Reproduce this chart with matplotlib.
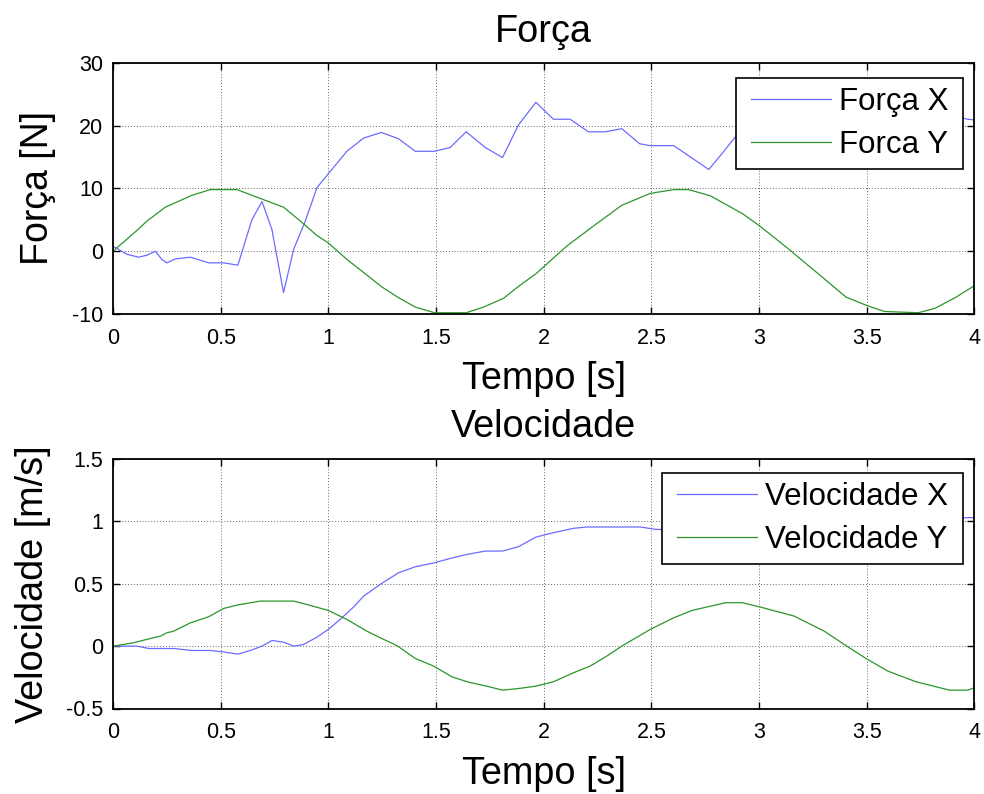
import matplotlib
matplotlib.use("Agg")
import matplotlib.pyplot as plt
from matplotlib.path import Path

plt.rcParams['font.family'] = ['Liberation Sans', 'DejaVu Sans']
plt.rcParams['axes.unicode_minus'] = False

# ---------------- data ----------------
fx_t = [0.0, 0.065, 0.119, 0.158, 0.197, 0.227, 0.25, 0.29, 0.36, 0.444, 0.514, 0.58,
        0.645, 0.692, 0.738, 0.792, 0.839, 0.893, 0.947, 1.009, 1.086, 1.164, 1.246,
        1.326, 1.404, 1.493, 1.566, 1.64, 1.729, 1.809, 1.883, 1.964, 2.045, 2.123,
        2.208, 2.286, 2.363, 2.446, 2.495, 2.604, 2.767, 2.837, 2.9, 3.0, 3.15, 3.3,
        3.45, 3.6, 3.75, 3.9, 3.97, 4.0]
fx_v = [0.8, -0.5, -0.96, -0.64, 0.0, -1.33, -1.86, -1.22, -0.96, -1.86, -1.86, -2.23,
        5.0, 7.9, 3.45, -6.6, 0.3, 4.8, 10.1, 12.7, 15.9, 18.0, 18.9,
        17.9, 15.9, 15.9, 16.5, 19.0, 16.5, 14.9, 20.1, 23.7, 21.0, 21.0,
        19.0, 19.0, 19.5, 17.1, 16.8, 16.8, 13.0, 15.9, 18.6, 20.5, 21.5, 22.0,
        21.0, 22.5, 21.5, 21.5, 21.0, 20.9]

fy_t = [0.0, 0.111, 0.158, 0.243, 0.367, 0.452, 0.576, 0.668, 0.792, 0.87, 0.947, 1.0,
        1.086, 1.179, 1.249, 1.326, 1.404, 1.493, 1.64, 1.721, 1.814, 1.883, 1.964,
        2.107, 2.231, 2.363, 2.495, 2.604, 2.674, 2.775, 2.922, 3.0, 3.132, 3.272,
        3.404, 3.497, 3.583, 3.74, 3.817, 3.911, 4.0]
fy_v = [0.0, 3.3, 4.8, 7.0, 8.9, 9.8, 9.8, 8.6, 7.0, 4.8, 2.5, 1.3,
        -1.3, -3.8, -5.7, -7.4, -8.9, -9.8, -9.8, -8.9, -7.5, -5.6, -3.6,
        0.8, 4.0, 7.3, 9.2, 9.8, 9.8, 8.8, 6.0, 4.1, 0.5, -3.5,
        -7.3, -8.6, -9.6, -9.8, -9.1, -7.4, -5.5]

vx_t = [0.0, 0.111, 0.166, 0.282, 0.367, 0.452, 0.506, 0.58, 0.638, 0.692, 0.738,
        0.792, 0.839, 0.885, 0.947, 1.0, 1.055, 1.117, 1.164, 1.241, 1.326, 1.404,
        1.493, 1.566, 1.643, 1.729, 1.809, 1.883, 1.964, 2.045, 2.138, 2.2, 2.449,
        2.519, 2.7, 3.0, 3.3, 3.6, 3.9, 3.97, 4.0]
vx_v = [0.0, 0.0, -0.019, -0.019, -0.035, -0.035, -0.045, -0.064, -0.035, 0.0, 0.045,
        0.032, 0.0, 0.013, 0.072, 0.134, 0.214, 0.313, 0.401, 0.495, 0.588, 0.636,
        0.668, 0.703, 0.735, 0.762, 0.762, 0.797, 0.874, 0.909, 0.944, 0.955, 0.955,
        0.936, 0.93, 0.95, 0.98, 1.0, 1.02, 1.03, 1.03]

vy_t = [0.0, 0.096, 0.173, 0.22, 0.25, 0.282, 0.36, 0.444, 0.514, 0.576, 0.684, 0.839,
        0.9, 1.0, 1.086, 1.179, 1.241, 1.318, 1.404, 1.489, 1.574, 1.651, 1.736,
        1.809, 1.883, 1.964, 2.045, 2.138, 2.216, 2.293, 2.363, 2.495, 2.604, 2.689,
        2.845, 2.922, 3.0, 3.163, 3.303, 3.396, 3.497, 3.598, 3.73, 3.885, 3.97, 4.0]
vy_v = [0.0, 0.027, 0.061, 0.08, 0.107, 0.12, 0.187, 0.235, 0.302, 0.329, 0.361, 0.361,
        0.334, 0.286, 0.214, 0.12, 0.067, 0.005, -0.099, -0.16, -0.246, -0.289, -0.321,
        -0.353, -0.34, -0.321, -0.286, -0.214, -0.16, -0.08, 0.0, 0.134, 0.227, 0.286,
        0.348, 0.348, 0.316, 0.241, 0.12, 0.013, -0.099, -0.2, -0.286, -0.353, -0.353, -0.334]

x_ticks = [0, 0.5, 1, 1.5, 2, 2.5, 3, 3.5, 4]
x_ticklabels = ['0', '0.5', '1', '1.5', '2', '2.5', '3', '3.5', '4']
f_yticks = [-10, 0, 10, 20, 30]
f_yticklabels = ['-10', '0', '10', '20', '30']
v_yticks = [-0.5, 0, 0.5, 1, 1.5]
v_yticklabels = ['-0.5', '0', '0.5', '1', '1.5']

BLUE = '#6b6bff'
GREEN = '#2a962a'
BIG = 27.3

W, H = 984, 794
fig = plt.figure(figsize=(W / 100, H / 100), dpi=100)

def px_axes(left, top, right, bottom):
    return fig.add_axes([left / W, 1 - bottom / H, (right - left) / W, (bottom - top) / H])

ax1 = px_axes(113, 62.7, 974.3, 314)
ax2 = px_axes(113, 459, 974.3, 708.5)

def style(ax, yticks, yticklabels, ylim):
    ax.set_xlim(0, 4)
    ax.set_ylim(*ylim)
    ax.set_xticks(x_ticks)
    ax.set_xticklabels(x_ticklabels)
    ax.set_yticks(yticks)
    ax.set_yticklabels(yticklabels)
    ax.tick_params(direction='in', top=True, right=True, length=5, width=1.0,
                   labelsize=15.5, colors='black')
    ax.tick_params(axis='x', pad=10)
    ax.tick_params(axis='y', pad=7)
    ax.grid(True, color='#333333', linestyle=(0, (1, 2)), linewidth=0.7, alpha=0.75)
    for s in ax.spines.values():
        s.set_linewidth(1.3)

ax1.plot(fx_t, fx_v, color=BLUE, lw=0.9, label='Força X')
ax1.plot(fy_t, fy_v, color=GREEN, lw=0.9, label='Forca Y')
style(ax1, f_yticks, f_yticklabels, (-10, 30))
ax1.set_title('Força', fontsize=BIG, pad=15)
ax1.set_xlabel('Tempo [s]', fontsize=BIG, labelpad=8.5)
ax1.set_ylabel('Força [N]', fontsize=27, labelpad=11.5)

ax2.plot(vx_t, vx_v, color=BLUE, lw=0.9, label='Velocidade X')
ax2.plot(vy_t, vy_v, color=GREEN, lw=0.9, label='Velocidade Y')
style(ax2, v_yticks, v_yticklabels, (-0.5, 1.5))
ax2.set_title('Velocidade', fontsize=BIG, pad=16)
ax2.set_xlabel('Tempo [s]', fontsize=BIG, labelpad=9)
ax2.set_ylabel('Velocidade [m/s]', fontsize=BIG, labelpad=11)


def wide_box(x0, y0, width, height, mutation_size):
    padx = 0.205 * mutation_size
    xa, xb = x0 - padx, x0 + width + padx
    ya, yb = y0, y0 + height
    return Path([(xa, ya), (xb, ya), (xb, yb), (xa, yb), (xa, ya)], closed=True)


for ax, (r, t) in ((ax1, (963 - 6.4, 78)), (ax2, (963 - 6.4, 473))):
    leg = ax.legend(loc='upper right', bbox_to_anchor=(r / W, 1 - t / H),
                    bbox_transform=fig.transFigure, fontsize=22.5, fancybox=False,
                    framealpha=1, edgecolor='black', borderaxespad=0,
                    handlelength=2.56, handletextpad=0.25, borderpad=0.275,
                    labelspacing=0.43)
    leg.legendPatch.set_boxstyle(wide_box)
    leg.get_frame().set_linewidth(1.2)

fig.savefig('out.png', dpi=100)
